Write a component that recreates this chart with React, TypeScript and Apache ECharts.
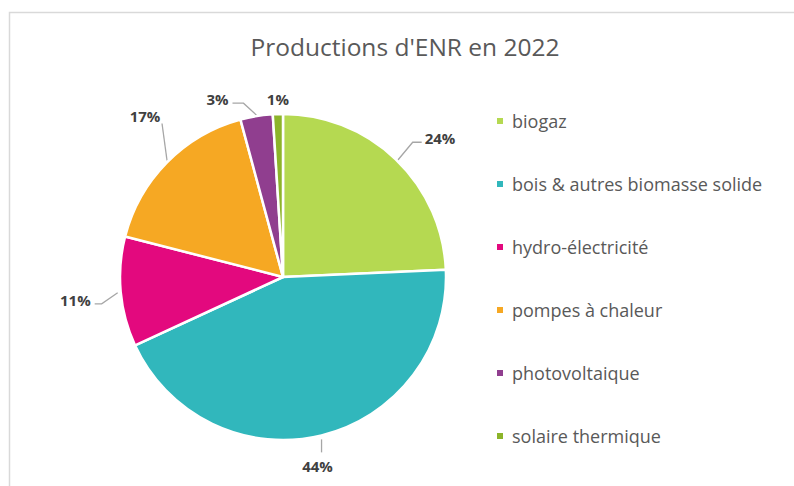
import React, { useEffect, useRef } from "react";
import * as echarts from "echarts";

const categories = [
  "biogaz",
  "bois & autres biomasse solide",
  "hydro-électricité",
  "pompes à chaleur",
  "photovoltaique",
  "solaire thermique",
];
const values = [24.3, 43.8, 10.9, 16.8, 3.2, 1.0];
const colors = ["#b5d951", "#31b7bc", "#e3097e", "#f6a823", "#903e8f", "#8cb42a"];
const titleText = "Productions d'ENR en 2022";

// Leader-line styling per slice, relative to the slice's outer edge point E
// (elbow offset, horizontal run, label offset, label alignment)
const leaderStyles: any[] = [
  { line: [[2, 1], [17, -17], [26, -17]], label: [29, -21], align: "left" },
  { line: [[0, 4], [0, 17]], label: [-4, 31], align: "center" },
  { line: [[-3, 1], [-19, 12], [-26, 12]], label: [-30, 8], align: "right" },
  { line: [[0, -2], [-5, -39]], label: [-22, -46], align: "center" },
  { line: [[0, -1], [-13, -13], [-24, -13]], label: [-28, -17], align: "right" },
  { line: [[0, 0], [0, 0]], label: [0, -15], align: "center" },
];

export default function App() {
  const ref = useRef<HTMLDivElement>(null);
  useEffect(() => {
    document.body.style.margin = "0";
    const chart = echarts.init(ref.current!, null, { renderer: "svg" });
    const font = "Open Sans";
    chart.setOption({
      animation: false,
      backgroundColor: "#ffffff",
      color: colors,
      title: {
        text: titleText,
        left: 400,
        textAlign: "center",
        top: 29,
        textStyle: { fontFamily: font, fontSize: 24.5, fontWeight: "normal", color: "#595959" },
      },
      graphic: [
        {
          type: "rect",
          shape: { x: 9.5, y: 12.5, width: 900, height: 600 },
          style: { fill: "none", stroke: "#d9d9d9", lineWidth: 1.5 },
          silent: true,
        },
      ],
      legend: {
        orient: "vertical",
        left: 490,
        top: 107,
        itemGap: 45,
        itemWidth: 8,
        itemHeight: 8,
        icon: "rect",
        textStyle: {
          fontFamily: font,
          fontSize: 18,
          lineHeight: 18,
          color: "#595959",
          padding: [0, 0, 0, 3],
        },
        data: categories,
      },
      series: [
        {
          type: "pie",
          center: [283, 277],
          radius: 163,
          startAngle: 90,
          clockwise: true,
          percentPrecision: 0,
          avoidLabelOverlap: false,
          itemStyle: { borderColor: "#ffffff", borderWidth: 2.5 },
          label: {
            show: true,
            formatter: "{d}%",
            fontFamily: font,
            fontSize: 15,
            fontWeight: "bold",
            color: "#404040",
          },
          labelLine: {
            show: true,
            length: 15,
            length2: 10,
            lineStyle: { color: "#a6a6a6", width: 1.3 },
          },
          labelLayout: (p: any) => {
            const pts = p.labelLinePoints;
            const s = leaderStyles[p.dataIndex];
            if (!pts || !pts.length || !s) return {};
            const E = pts[0];
            return {
              x: E[0] + s.label[0],
              y: E[1] + s.label[1],
              align: s.align,
              verticalAlign: "middle",
              labelLinePoints: s.line.map((o: number[]) => [E[0] + o[0], E[1] + o[1]]),
            };
          },
          data: categories.map((c, i) => ({ name: c, value: values[i] })),
        },
      ],
    });
    return () => chart.dispose();
  }, []);
  return <div ref={ref} style={{ width: 794, height: 486 }} />;
}
